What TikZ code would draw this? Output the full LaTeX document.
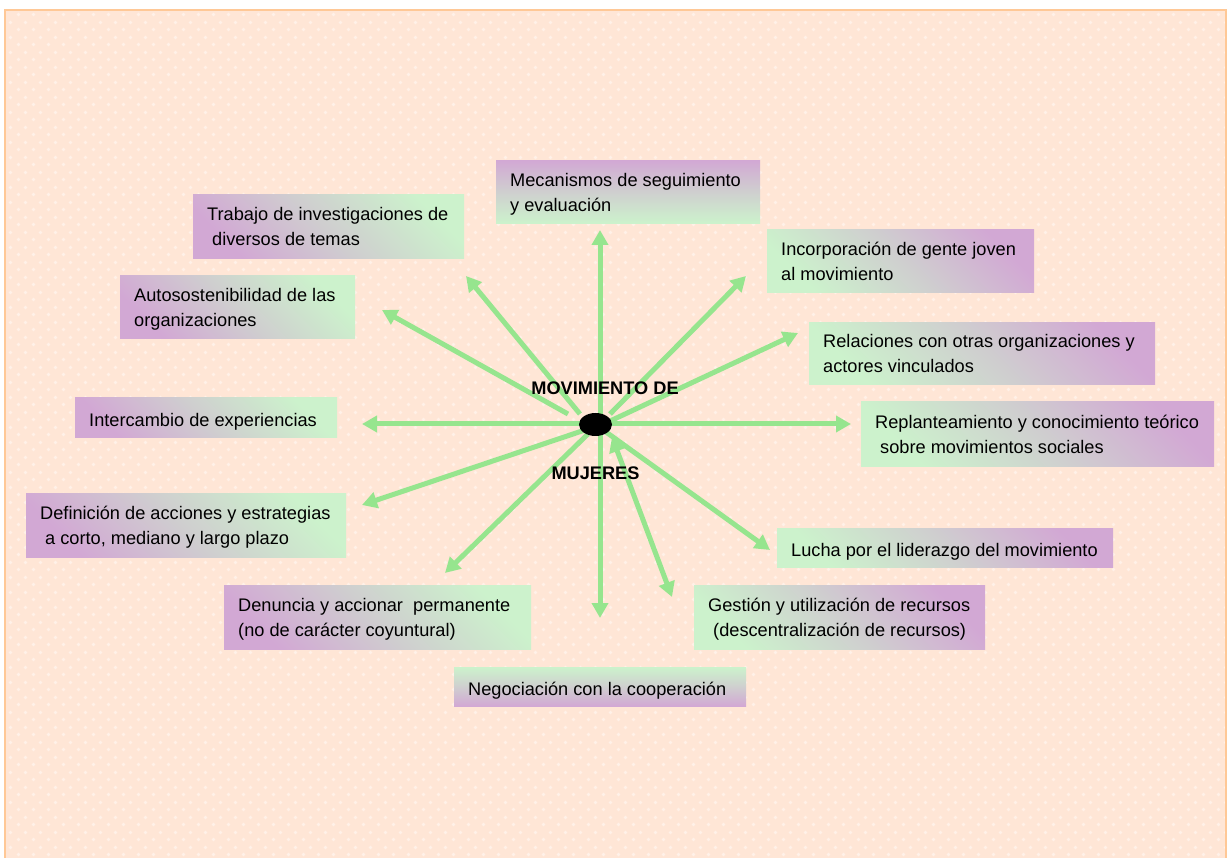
\documentclass[tikz,border=0pt]{standalone}
\usepackage{fontspec}
\setmainfont{Liberation Sans}
\usetikzlibrary{arrows.meta,patterns,shapes.geometric}
\definecolor{bg}{RGB}{255,230,214}
\definecolor{bgdot}{RGB}{255,241,232}
\definecolor{framecol}{RGB}{255,200,150}
\definecolor{pur}{RGB}{210,168,212}
\definecolor{grn}{RGB}{204,242,204}
\definecolor{gry}{RGB}{207,207,207}
\definecolor{arr}{RGB}{150,229,142}
\pgfdeclarepatternformonly{softdiamonds}{\pgfpointorigin}{\pgfpoint{15pt}{15pt}}{\pgfpoint{15pt}{15pt}}{%
  \pgfpathmoveto{\pgfpoint{3.75pt}{1.75pt}}\pgfpathlineto{\pgfpoint{5.75pt}{3.75pt}}%
  \pgfpathlineto{\pgfpoint{3.75pt}{5.75pt}}\pgfpathlineto{\pgfpoint{1.75pt}{3.75pt}}\pgfpathclose
  \pgfpathmoveto{\pgfpoint{11.25pt}{9.25pt}}\pgfpathlineto{\pgfpoint{13.25pt}{11.25pt}}%
  \pgfpathlineto{\pgfpoint{11.25pt}{13.25pt}}\pgfpathlineto{\pgfpoint{9.25pt}{11.25pt}}\pgfpathclose
  \pgfusepath{fill}}
\tikzset{
  box/.style={inner sep=0pt, anchor=north west},
  lbox/.style={box, top color=grn, bottom color=pur, middle color=gry, shading angle=-45},
  rbox/.style={box, top color=pur, bottom color=grn, middle color=gry, shading angle=-45},
  tbox/.style={box, top color=pur, bottom color=grn, middle color=gry},
  bbox/.style={box, top color=grn, bottom color=pur, middle color=gry},
  txt/.style={align=left, inner sep=0pt, anchor=west, text=black, yshift=-4pt,
    execute at begin node=\strut, execute at end node=\strut},
  hubtxt/.style={inner sep=0pt, font=\fontsize{18.2}{25}\selectfont\bfseries},
  conn/.style={draw=arr, line width=5pt, -{Triangle[length=15pt,width=16pt]}},
  dconn/.style={draw=arr, line width=5pt, {Triangle[length=15pt,width=16pt]}-{Triangle[length=15pt,width=16pt]}}
}
\newcommand\indt{\hspace*{5pt}}
\begin{document}
\begin{tikzpicture}[x=1pt,y=-1pt,font=\fontsize{18.2}{25}\selectfont]
\useasboundingbox (0,0) rectangle (1232,858);
\fill[white] (0,0) rectangle (1232,858);
\fill[bg] (5,10) rectangle (1226,858);
\fill[pattern=softdiamonds, pattern color=bgdot] (5,10) rectangle (1226,858);
\draw[framecol, line width=1.5pt] (5,858) -- (5,10) -- (1226,10) -- (1226,858);

% boxes
\node[tbox, minimum width=264pt, minimum height=63pt] (mecan) at (496,160) {};
\node[txt] (mecan-t) at ([xshift=14pt]mecan.west) {Mecanismos de seguimiento\\y evaluación};

\node[lbox, minimum width=271pt, minimum height=64pt] (trab) at (193,194) {};
\node[txt] (trab-t) at ([xshift=14pt]trab.west) {Trabajo de investigaciones de\\\indt diversos de temas};

\node[lbox, minimum width=235pt, minimum height=63pt] (auto) at (120,275) {};
\node[txt] (auto-t) at ([xshift=14pt]auto.west) {Autosostenibilidad de las\\organizaciones};

\node[lbox, minimum width=262pt, minimum height=40pt] (inter) at (75,397) {};
\node[txt] (inter-t) at ([xshift=14pt]inter.west) {Intercambio de experiencias};

\node[lbox, minimum width=320pt, minimum height=64pt] (defin) at (26,493) {};
\node[txt] (defin-t) at ([xshift=14pt]defin.west) {Definición de acciones y estrategias\\\indt a corto, mediano y largo plazo};

\node[lbox, minimum width=307pt, minimum height=64pt] (denun) at (224,585) {};
\node[txt] (denun-t) at ([xshift=14pt]denun.west) {Denuncia y accionar~\ permanente\\(no de carácter coyuntural)};

\node[bbox, minimum width=292pt, minimum height=39pt] (negoc) at (454,667) {};
\node[txt] (negoc-t) at ([xshift=14pt]negoc.west) {Negociación con la cooperación};

\node[rbox, minimum width=291pt, minimum height=64pt] (gest) at (694,585) {};
\node[txt] (gest-t) at ([xshift=14pt]gest.west) {Gestión y utilización de recursos\\\indt (descentralización de recursos)};

\node[rbox, minimum width=336pt, minimum height=39pt] (lucha) at (777,528) {};
\node[txt] (lucha-t) at ([xshift=14pt]lucha.west) {Lucha por el liderazgo del movimiento};

\node[rbox, minimum width=353pt, minimum height=65pt] (replan) at (861,401) {};
\node[txt] (replan-t) at ([xshift=14pt]replan.west) {Replanteamiento y conocimiento teórico\\\indt sobre movimientos sociales};

\node[rbox, minimum width=346pt, minimum height=62pt] (relac) at (809,322) {};
\node[txt] (relac-t) at ([xshift=14pt]relac.west) {Relaciones con otras organizaciones y\\actores vinculados};

\node[rbox, minimum width=267pt, minimum height=63pt] (incorp) at (767,229) {};
\node[txt] (incorp-t) at ([xshift=14pt]incorp.west) {Incorporación de gente joven\\al movimiento};

% connector ends
\coordinate (s-up) at (600,425);   \coordinate (e-up) at (600,230);
\coordinate (s-dn) at (600,425);   \coordinate (e-dn) at (600,618);
\coordinate (s-trab) at (580,414); \coordinate (e-trab) at (466,276);
\coordinate (s-auto) at (568,414); \coordinate (e-auto) at (382,310);
\coordinate (s-inter) at (585,424); \coordinate (e-inter) at (362,424);
\coordinate (s-defin) at (585,430); \coordinate (e-defin) at (362,505);
\coordinate (s-denun) at (588,434); \coordinate (e-denun) at (445,573);
\coordinate (s-gest) at (612,437); \coordinate (e-gest) at (672,597);
\coordinate (s-lucha) at (606,432); \coordinate (e-lucha) at (770,550);
\coordinate (s-replan) at (605,424); \coordinate (e-replan) at (851,424);
\coordinate (s-relac) at (608,422); \coordinate (e-relac) at (798,333);
\coordinate (s-incorp) at (610,414); \coordinate (e-incorp) at (746,276);

\draw[conn] (s-up) -- (e-up);
\draw[conn] (s-dn) -- (e-dn);
\draw[conn] (s-trab) -- (e-trab);
\draw[conn] (s-auto) -- (e-auto);
\draw[conn] (s-inter) -- (e-inter);
\draw[conn] (s-defin) -- (e-defin);
\draw[conn] (s-denun) -- (e-denun);
\draw[dconn] (s-gest) -- (e-gest);
\draw[conn] (s-lucha) -- (e-lucha);
\draw[conn] (s-replan) -- (e-replan);
\draw[conn] (s-relac) -- (e-relac);
\draw[conn] (s-incorp) -- (e-incorp);

% hub
\node[ellipse, fill=black, inner sep=0pt, minimum width=33pt, minimum height=23pt] (hub) at (595.5,424.5) {};
\node[hubtxt] (hub-top) at (605,388) {MOVIMIENTO DE};
\node[hubtxt] (hub-bot) at (595.5,473) {MUJERES};
\end{tikzpicture}
\end{document}
